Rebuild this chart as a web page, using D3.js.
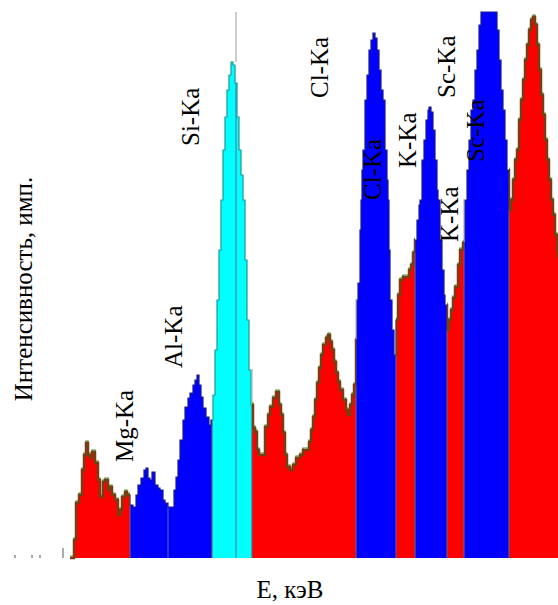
<!DOCTYPE html>
<html lang="ru">
  <head>
    <meta charset="utf-8">
    <title>Спектр</title>
    <script src="https://d3js.org/d3.v7.js"></script>
    <style>
      body { margin: 0; background: white; }
      text { font-family: "Liberation Serif", "Times New Roman", serif; fill: black; }
    </style>
  </head>
  <body>
    <script type="text/javascript">

      // spectrum: channel number and counts
      const channels = [0, 4, 6, 9, 12, 14, 16, 18, 20, 22, 25, 28, 30, 33, 35, 38, 40, 42, 45, 48,
        50, 52, 55, 57, 60, 63, 66, 68, 71, 74, 76, 78, 80, 82, 85, 88, 90, 93, 95, 98,
        101, 104, 106, 108, 110, 113, 115, 118, 120, 123, 125, 127, 129, 131, 133, 136, 139, 141, 143, 145,
        147, 149, 151, 153, 155, 157, 159, 161, 163, 165, 167, 169, 171, 173, 175, 177, 179, 181, 183, 185,
        187, 189, 192, 195, 198, 200, 203, 206, 209, 211, 213, 215, 217, 220, 223, 226, 230, 233, 236, 239,
        241, 243, 245, 247, 249, 251, 253, 256, 258, 260, 262, 264, 266, 268, 270, 273, 276, 278, 280, 282,
        284, 286, 287, 288, 290, 291, 292, 293, 295, 297, 299, 301, 303, 305, 307, 309, 311, 313, 315, 317,
        318, 319, 320, 322, 324, 326, 328, 330, 333, 336, 339, 341, 343, 345, 347, 349, 350, 352, 354, 356,
        358, 359, 361, 363, 365, 367, 368, 370, 372, 374, 375, 377, 379, 381, 383, 385, 388, 390, 393, 395,
        397, 399, 401, 403, 405, 407, 409, 411, 418, 425, 427, 429, 431, 433, 435, 437, 439, 441, 443, 445,
        447, 449, 451, 453, 455, 457, 459, 461, 463, 465, 467, 469, 471, 473, 475, 477, 479, 481, 483, 485,
        487, 488];
      const counts = [0, 18, 55, 63, 88, 103, 115, 103, 100, 106, 95, 78, 61, 76, 78, 68, 71, 63, 58, 43,
        48, 61, 66, 63, 53, 51, 63, 73, 80, 88, 90, 80, 78, 86, 73, 70, 68, 58, 55, 51,
        51, 68, 81, 98, 118, 138, 151, 160, 165, 173, 178, 183, 173, 161, 150, 141, 133, 138, 163, 208,
        258, 308, 358, 408, 441, 468, 483, 496, 493, 475, 441, 408, 383, 358, 298, 238, 188, 153, 130, 126,
        108, 103, 103, 131, 143, 151, 160, 166, 153, 143, 125, 103, 91, 88, 93, 100, 103, 108, 108, 116,
        128, 141, 158, 175, 190, 203, 213, 220, 223, 216, 208, 196, 185, 176, 168, 158, 148, 143, 153, 163,
        173, 218, 258, 275, 328, 358, 388, 408, 458, 483, 508, 518, 525, 520, 508, 488, 468, 458, 408, 378,
        358, 308, 258, 228, 203, 238, 263, 278, 281, 281, 288, 293, 305, 318, 338, 353, 358, 398, 418, 438,
        448, 451, 446, 428, 398, 368, 358, 318, 288, 263, 253, 228, 238, 248, 260, 271, 293, 308, 315, 358,
        388, 418, 448, 458, 488, 508, 533, 546, 546, 546, 528, 498, 468, 448, 418, 388, 348, 358, 378, 398,
        408, 438, 458, 478, 498, 513, 528, 538, 541, 533, 513, 488, 463, 443, 418, 398, 378, 358, 343, 323,
        308, 300];

      // colour bands (channel ranges) of the selected regions
      const bandStart = [0, 60, 142, 182, 286, 326, 345, 377, 394, 439];
      const bandEnd   = [60, 142, 182, 286, 326, 345, 377, 394, 439, 488];
      const bandKind  = ["bg", "line", "si", "bg", "line", "bg", "line", "bg", "line", "bg"];

      // marker lines
      const markerCh = [98, 166];

      // peak labels: text and anchor (channel, counts) of the start of the rotated text
      const labelText = ["Mg-Ka", "Al-Ka", "Si-Ka", "Cl-Ka", "Cl-Ka", "K-Ka", "K-Ka", "Sc-Ka", "Sc-Ka"];
      const labelCh   = [63, 112, 129, 258, 311, 346, 388, 385, 414];
      const labelCnt  = [96, 190, 412, 460, 358, 390, 316, 460, 396];

      // small ticks left of the spectrum
      const tickCh = [-55, -38, -30, -7];
      const tickMajor = [false, false, false, true];

      const w = 558, h = 605;
      const margin = {top: 12, right: 0, bottom: 47, left: 70};

      const colours = {bg: "#ff0000", line: "#0000ff", si: "#00ffff"};
      const edges = {bg: "#7a3c12", line: "#1c1c8c", si: "#1a9a9a"};

      const data = channels.map((c, i) => ({ch: c, n: counts[i]}));

      const xScale = d3.scaleLinear()
        .domain([0, 488])
        .range([margin.left, w]);

      const yScale = d3.scaleLinear()
        .domain([0, 546])
        .range([h - margin.bottom, margin.top]);

      const svg = d3.select("body")
        .append("svg")
        .attr("width", w)
        .attr("height", h);

      svg.append("rect")
        .attr("width", w)
        .attr("height", h)
        .attr("fill", "white");

      const area = d3.area()
        .curve(d3.curveStepAfter)
        .x(d => xScale(d.ch))
        .y0(yScale(0))
        .y1(d => yScale(d.n));

      const line = d3.line()
        .curve(d3.curveStepAfter)
        .x(d => xScale(d.ch))
        .y(d => yScale(d.n));

      const defs = svg.append("defs");
      defs.append("clipPath")
        .attr("id", "spec")
        .append("path")
        .attr("d", area(data));

      bandStart.forEach((s, i) => {
        defs.append("clipPath")
          .attr("id", "band" + i)
          .append("rect")
          .attr("x", xScale(s))
          .attr("y", 0)
          .attr("width", xScale(bandEnd[i]) - xScale(s))
          .attr("height", h);
      });

      // filled bands
      const fill = svg.append("g").attr("clip-path", "url(#spec)");
      fill.selectAll("rect")
        .data(bandStart)
        .enter()
        .append("rect")
        .attr("x", d => xScale(d))
        .attr("y", yScale(546))
        .attr("width", (d, i) => xScale(bandEnd[i]) - xScale(d))
        .attr("height", yScale(0) - yScale(546))
        .attr("fill", (d, i) => colours[bandKind[i]]);

      // band borders
      fill.selectAll("line.border")
        .data(bandStart.slice(1))
        .enter()
        .append("line")
        .attr("class", "border")
        .attr("x1", d => xScale(d))
        .attr("x2", d => xScale(d))
        .attr("y1", yScale(546))
        .attr("y2", yScale(0))
        .attr("stroke", "#6a5a7a")
        .attr("stroke-width", 1.2);

      // marker lines inside the spectrum
      fill.selectAll("line.marker")
        .data(markerCh)
        .enter()
        .append("line")
        .attr("class", "marker")
        .attr("x1", d => xScale(d))
        .attr("x2", d => xScale(d))
        .attr("y1", yScale(546))
        .attr("y2", yScale(0))
        .attr("stroke", "#5a6a9a")
        .attr("stroke-width", 1);

      // marker line above the Si peak
      svg.append("line")
        .attr("x1", xScale(markerCh[1]))
        .attr("x2", xScale(markerCh[1]))
        .attr("y1", yScale(546))
        .attr("y2", yScale(d3.max(counts.slice(60, 72))))
        .attr("stroke", "#9a9a9a")
        .attr("stroke-width", 1);

      // outline of the spectrum, coloured per band
      bandStart.forEach((s, i) => {
        const g = svg.append("g").attr("clip-path", `url(#band${i})`);
        if (bandKind[i] === "bg") {
          g.append("path")
            .attr("d", line(data))
            .attr("fill", "none")
            .attr("stroke", "#3d8a22")
            .attr("stroke-width", 1.2)
            .attr("transform", "translate(0,-2)");
        }
        g.append("path")
          .attr("d", line(data))
          .attr("fill", "none")
          .attr("stroke", edges[bandKind[i]])
          .attr("stroke-width", bandKind[i] === "bg" ? 2.5 : 1.2);
      });

      // small ticks
      svg.selectAll("line.tick")
        .data(tickCh)
        .enter()
        .append("line")
        .attr("class", "tick")
        .attr("x1", d => xScale(d))
        .attr("x2", d => xScale(d))
        .attr("y1", yScale(0))
        .attr("y2", (d, i) => yScale(0) - (tickMajor[i] ? 10 : 3))
        .attr("stroke", "#555")
        .attr("stroke-width", 1);

      // peak labels
      svg.selectAll("text.peak")
        .data(labelText)
        .enter()
        .append("text")
        .attr("class", "peak")
        .attr("transform", (d, i) => `translate(${xScale(labelCh[i])},${yScale(labelCnt[i])}) rotate(-90)`)
        .attr("font-size", 25)
        .text(d => d);

      // axis titles
      svg.append("text")
        .attr("transform", `translate(32,${(margin.top + h - margin.bottom) / 2 + 4}) rotate(-90)`)
        .attr("text-anchor", "middle")
        .attr("font-size", 25)
        .text("Интенсивность, имп.");

      svg.append("text")
        .attr("x", 290)
        .attr("y", 598)
        .attr("text-anchor", "middle")
        .attr("font-size", 25)
        .text("E, кэВ");

    </script>
  </body>
</html>
